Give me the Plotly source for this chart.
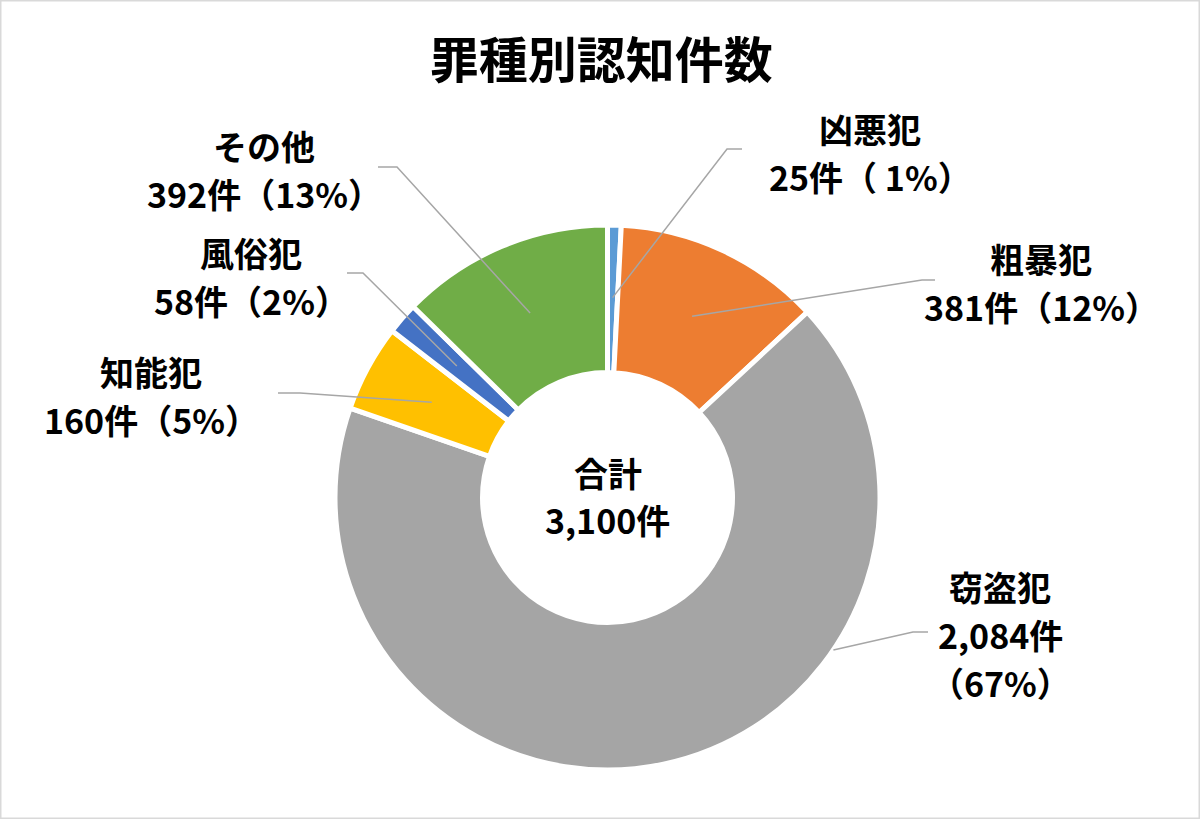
import math
import plotly.graph_objects as go

# data
categories = ["凶悪犯", "粗暴犯", "窃盗犯", "知能犯", "風俗犯", "その他"]
counts = [25, 381, 2084, 160, 58, 392]
colors = ["#5B9BD5", "#ED7D31", "#A5A5A5", "#FFC000", "#4472C4", "#70AD47"]
title = "罪種別認知件数"
total_label = "合計"

W, H = 1200, 819
cx, cy, R, r_in = 607.5, 497.5, 272.5, 125

total = sum(counts)
pcts = [round(c / total * 100) for c in counts]

# label text templates and placement (pixel coords, first line centre)
label_fmt = [["{c}", "{n}件（ {p}%）"],
             ["{c}", "{n}件（{p}%）"],
             ["{c}", "{n}件", "（{p}%）"],
             ["{c}", "{n}件（{p}%）"],
             ["{c}", "{n}件（{p}%）"],
             ["{c}", "{n}件（{p}%）"]]
label_pos = [(870, 128), (1041, 258), (1000, 586), (151, 371), (251, 252), (264, 145)]
line_gap = 48
# leader line: elbow, end point; start radius (outer edge + fixed angle for the big slice)
leader = [((727, 149), (742, 149), 200, None),
          ((922, 280), (935, 280), 200, None),
          ((913, 632), (928, 632), R, 124),
          ((300, 393), (278, 393), 200, None),
          ((363, 273), (347, 273), 200, None),
          ((397, 167), (378, 167), 200, None)]

fig = go.Figure()
fig.add_trace(go.Pie(
    labels=categories, values=counts, sort=False, direction="clockwise",
    rotation=0, hole=r_in / R,
    marker=dict(colors=colors, line=dict(color="white", width=5)),
    textinfo="none", hoverinfo="label+value+percent", showlegend=False,
    domain=dict(x=[(cx - R) / W, (cx + R) / W], y=[1 - (cy + R) / H, 1 - (cy - R) / H]),
))

font = dict(family="Noto Sans CJK JP", size=34, color="#000000", weight="bold")

annotations = []
shapes = []
cum = 0
for i, cat in enumerate(categories):
    mid = (cum + counts[i] / 2) / total * 360
    cum += counts[i]
    lx, ly = label_pos[i]
    for k, tmpl in enumerate(label_fmt[i]):
        annotations.append(dict(
            x=lx, y=ly + k * line_gap, xref="x", yref="y", showarrow=False,
            text=tmpl.format(c=cat, n=f"{counts[i]:,}", p=pcts[i]), font=font,
            xanchor="center", yanchor="middle"))
    (ex, ey), (hx, hy), rad, ang = leader[i]
    a = math.radians(mid if ang is None else ang)
    sx, sy = cx + rad * math.sin(a), cy - rad * math.cos(a)
    shapes.append(dict(type="path", xref="x", yref="y", layer="above",
                       path=f"M {sx:.1f},{sy:.1f} L {ex},{ey} L {hx},{hy}",
                       line=dict(color="#A6A6A6", width=1.5)))

# centre text
annotations.append(dict(x=cx, y=472, xref="x", yref="y", showarrow=False,
                        text=total_label, font=font))
annotations.append(dict(x=cx, y=519, xref="x", yref="y", showarrow=False,
                        text=f"{total:,}件", font=font))

# frame
shapes.append(dict(type="rect", xref="paper", yref="paper", x0=0, y0=0, x1=1, y1=1,
                   line=dict(color="#D9D9D9", width=3)))

fig.update_layout(
    width=W, height=H, margin=dict(l=0, r=0, t=0, b=0),
    paper_bgcolor="white", plot_bgcolor="rgba(0,0,0,0)",
    title=dict(text=title, x=0.501, y=1 - 61 / H, xanchor="center", yanchor="middle",
               font=dict(family="Noto Sans CJK JP", size=49, color="#000000", weight="bold")),
    xaxis=dict(range=[0, W], visible=False, fixedrange=True, domain=[0, 1]),
    yaxis=dict(range=[H, 0], visible=False, fixedrange=True, domain=[0, 1]),
    annotations=annotations, shapes=shapes,
)

fig.write_html("out.html", config={"displayModeBar": False},
               post_script="document.body.style.margin='0';")
